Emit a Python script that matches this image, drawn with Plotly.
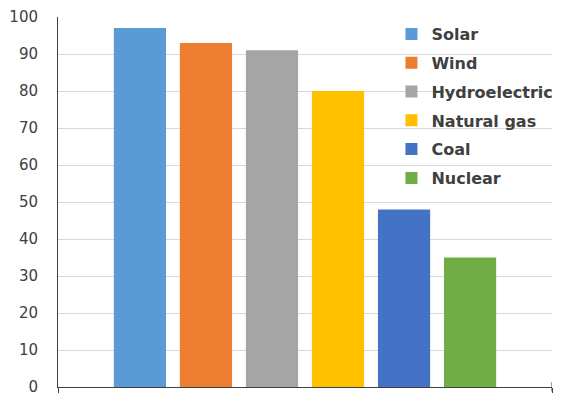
import plotly.graph_objects as go

sources = ["Solar", "Wind", "Hydroelectric", "Natural gas", "Coal", "Nuclear"]
values = [97, 93, 91, 80, 48, 35]
colors = ["#5b9bd5", "#ed7d31", "#a5a5a5", "#ffc000", "#4472c4", "#70ad47"]
y_ticks = [0, 10, 20, 30, 40, 50, 60, 70, 80, 90, 100]

fig = go.Figure()
for name, val, col in zip(sources, values, colors):
    fig.add_trace(go.Bar(
        x=[""], y=[val], name=name, marker_color=col,
        marker_line_width=0, legendgroup=name,
    ))

fig.update_layout(
    width=566, height=396,
    margin=dict(l=58, r=14, t=17, b=9, autoexpand=False),
    paper_bgcolor="white", plot_bgcolor="white",
    barmode="group", bargap=0.198, bargroupgap=0.21,
    font=dict(family="DejaVu Sans", size=15, color="#404040"),
    showlegend=True,
    legend=dict(
        x=0.675, xanchor="left", y=1.0, yanchor="top",
        bgcolor="rgba(0,0,0,0)", tracegroupgap=5,
        font=dict(family="DejaVu Sans", size=16, color="#404040", weight="bold"),
    ),
    xaxis=dict(
        showticklabels=False, showline=True, linecolor="#404040", linewidth=1,
        ticks="outside", tickson="boundaries", ticklen=5, tickcolor="#404040",
        range=[-0.5, 0.5], fixedrange=True, automargin=False,
    ),
    yaxis=dict(
        range=[0, 100], tickvals=y_ticks, showgrid=True, gridcolor="#d9d9d9",
        gridwidth=1, showline=True, linecolor="#404040", linewidth=1,
        ticks="", zeroline=False, ticklabelstandoff=16, automargin=False,
        ticklabeloverflow="allow",
    ),
)

# Small cross mark at the right end of the category axis
fig.add_shape(type="line", xref="x", yref="paper", x0=0.5, x1=0.5,
              y0=-0.012, y1=0.013, line=dict(color="#404040", width=1))

fig.write_html("out.html")
